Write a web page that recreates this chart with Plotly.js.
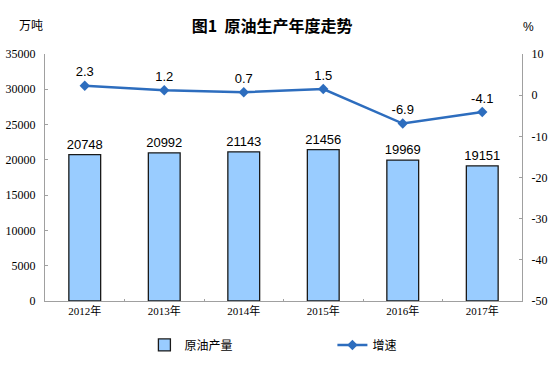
<!DOCTYPE html>
<html>
<head>
<meta charset="utf-8">
<script src="https://cdn.plot.ly/plotly-3.0.1.min.js"></script>
<style>html,body{margin:0;padding:0;background:#fff;}#chart{width:559px;height:380px;}</style>
</head>
<body>
<div id="chart"></div>
<script>
var years = ["2012年", "2013年", "2014年", "2015年", "2016年", "2017年"];
var output = [20748, 20992, 21143, 21456, 19969, 19151];
var growth = [2.3, 1.2, 0.7, 1.5, -6.9, -4.1];
var rightTicks = [10, 0, -10, -20, -30, -40, -50];
var rightTickText = ["10", "0", "-10", "-20", "-30", "-40", "-50"];
var barName = "原油产量";
var lineName = "增速";
var titleText = "图1  原油生产年度走势";
var leftUnit = "万吨";
var rightUnit = "%";

var cjk = "Noto Sans CJK SC";
var serif = "Liberation Serif, " + cjk;
var sans = "Liberation Sans, Arial, " + cjk;

var traces = [
  {
    type: "bar",
    name: barName,
    x: years,
    y: output,
    text: output.map(String),
    textposition: "outside",
    constraintext: "none",
    cliponaxis: false,
    textfont: {family: sans, size: 13, color: "#000"},
    marker: {color: "#99CCFF", line: {color: "#1a1a1a", width: 1.3}},
    yaxis: "y",
    hoverinfo: "none"
  },
  {
    type: "scatter",
    mode: "lines+markers+text",
    name: lineName,
    x: years,
    y: growth,
    text: growth.map(String),
    textposition: "top center",
    cliponaxis: false,
    textfont: {family: sans, size: 13, color: "#000"},
    line: {color: "#2D6DBE", width: 2.5},
    marker: {symbol: "diamond", size: 8, color: "#2D6DBE"},
    yaxis: "y2",
    hoverinfo: "none"
  }
];

var layout = {
  width: 559,
  height: 380,
  margin: {l: 45, r: 37, t: 54, b: 79},
  paper_bgcolor: "#fff",
  plot_bgcolor: "#fff",
  bargap: 0.6,
  showlegend: true,
  title: {
    text: titleText,
    font: {family: cjk, size: 16, color: "#000", weight: "bold"},
    x: 0.487, xanchor: "center", xref: "container",
    y: 0.93, yanchor: "middle", yref: "container"
  },
  xaxis: {
    type: "category",
    showline: true, linecolor: "#A0A0A0", linewidth: 1,
    ticks: "inside", ticklen: 2, tickcolor: "#A0A0A0", tickson: "boundaries",
    tickfont: {family: serif, size: 11, color: "#000"},
    showgrid: false, zeroline: false, fixedrange: true
  },
  yaxis: {
    range: [0, 35000], dtick: 5000, tickformat: "d",
    showline: true, linecolor: "#A0A0A0", linewidth: 1,
    ticks: "inside", ticklen: 3, tickcolor: "#A0A0A0",
    tickfont: {family: serif, size: 12, color: "#000"},
    ticklabelstandoff: 6,
    showgrid: false, zeroline: false, fixedrange: true
  },
  yaxis2: {
    overlaying: "y", side: "right",
    range: [-50, 10],
    tickmode: "array", tickvals: rightTicks, ticktext: rightTickText,
    showline: true, linecolor: "#A0A0A0", linewidth: 1,
    ticks: "inside", ticklen: 3, tickcolor: "#A0A0A0",
    tickfont: {family: serif, size: 12, color: "#000"},
    ticklabelstandoff: 6,
    showgrid: false, zeroline: false, fixedrange: true
  },
  legend: {
    orientation: "h",
    x: 0.2084, xanchor: "left",
    y: -0.178, yanchor: "middle",
    font: {family: cjk, size: 12, color: "#000"},
    entrywidth: 143,
    bgcolor: "rgba(0,0,0,0)"
  },
  annotations: [
    {text: leftUnit, xref: "paper", yref: "paper", x: -0.03, y: 1.12, xanchor: "center", yanchor: "middle", showarrow: false, font: {family: cjk, size: 12, color: "#000"}},
    {text: rightUnit, xref: "paper", yref: "paper", x: 1.013, y: 1.11, xanchor: "center", yanchor: "middle", showarrow: false, font: {family: sans, size: 12, color: "#000"}}
  ]
};

Plotly.newPlot("chart", traces, layout, {displayModeBar: false, staticPlot: true});
</script>
</body>
</html>
